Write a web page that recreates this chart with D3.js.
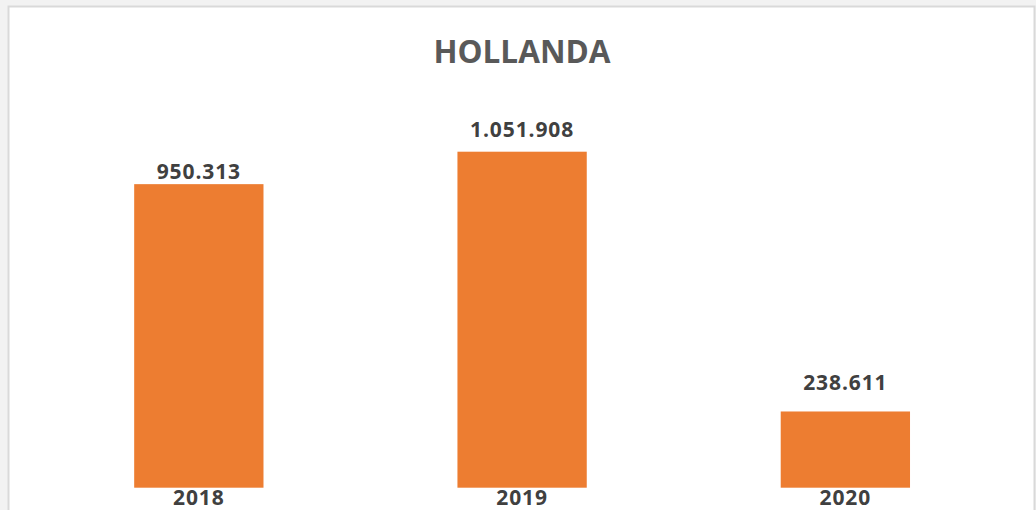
<!DOCTYPE html>
<html>
<head>
<meta charset="utf-8">
<script src="https://cdn.jsdelivr.net/npm/d3@7"></script>
<style>
  html, body { margin: 0; padding: 0; background: #f2f2f2; }
  svg { display: block; }
</style>
</head>
<body>
<svg id="chart" width="1036" height="510"></svg>
<script>
const title = "HOLLANDA";
const categories = ["2018", "2019", "2020"];
const values = [950313, 1051908, 238611];
const valueLabels = ["950.313", "1.051.908", "238.611"];

const W = 1036, H = 510;
const svg = d3.select("#chart");

// chart area
svg.append("rect")
  .attr("x", 8.5).attr("y", 6.5)
  .attr("width", 1026).attr("height", 520)
  .attr("fill", "#ffffff")
  .attr("stroke", "#d9d9d9").attr("stroke-width", 2);

const x = d3.scaleBand()
  .domain(categories)
  .range([37.2, 1007])
  .paddingInner(0.6)
  .paddingOuter(0.3);

const y = d3.scaleLinear()
  .domain([0, 1200000])
  .range([487.7, 104.4]);

svg.append("text")
  .attr("x", 522).attr("y", 62.5)
  .attr("text-anchor", "middle")
  .attr("font-family", "'Open Sans', sans-serif")
  .attr("font-weight", "bold")
  .attr("font-size", 31.5)
  .attr("fill", "#595959")
  .text(title);

const data = categories.map((c, i) => ({ c, v: values[i], label: valueLabels[i] }));

svg.selectAll("rect.bar")
  .data(data)
  .join("rect")
  .attr("class", "bar")
  .attr("x", d => x(d.c))
  .attr("width", x.bandwidth())
  .attr("y", d => y(d.v))
  .attr("height", d => y(0) - y(d.v))
  .attr("fill", "#ED7D31");

// label gaps above bar tops (layout tweak to mirror source placement)
const labelLift = [5, 15, 21];
svg.selectAll("text.val")
  .data(data)
  .join("text")
  .attr("class", "val")
  .attr("x", d => x(d.c) + x.bandwidth() / 2)
  .attr("y", (d, i) => y(d.v) - labelLift[i])
  .attr("text-anchor", "middle")
  .attr("font-family", "'Open Sans', sans-serif")
  .attr("font-weight", "bold")
  .attr("font-size", 21)
  .attr("letter-spacing", "0.9px")
  .attr("fill", "#404040")
  .text(d => d.label);

const xAxis = svg.append("g")
  .attr("transform", `translate(0,${y(0)})`)
  .call(d3.axisBottom(x).tickSize(0).tickPadding(0));
xAxis.select(".domain").remove();
xAxis.selectAll("text")
  .attr("dy", null)
  .attr("y", 17.5)
  .attr("font-family", "'Open Sans', sans-serif")
  .attr("font-weight", "bold")
  .attr("font-size", 21)
  .attr("letter-spacing", "0.9px")
  .attr("fill", "#404040");
</script>
</body>
</html>
